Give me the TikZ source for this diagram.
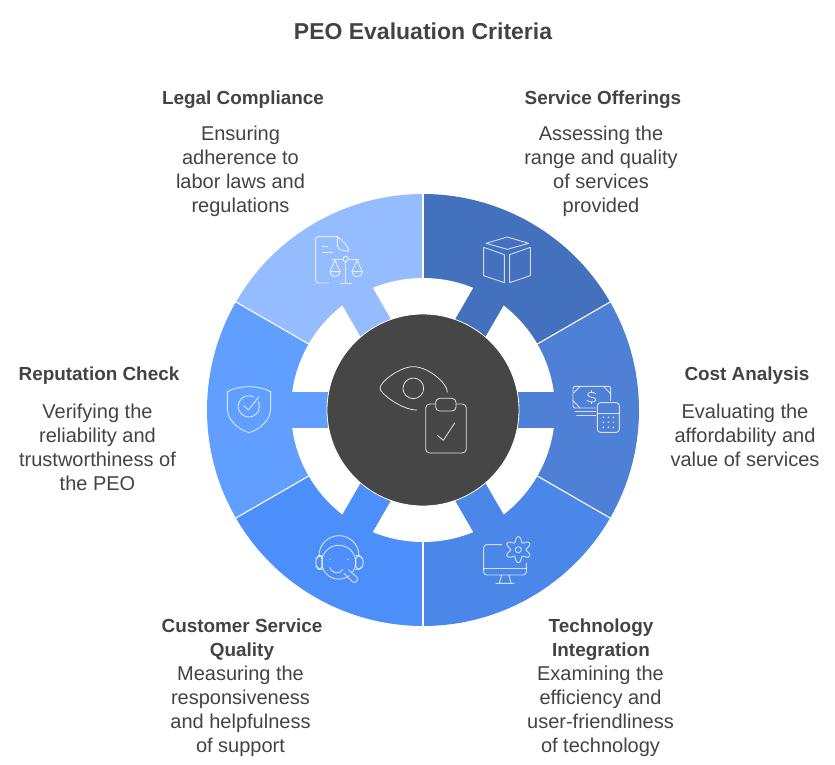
\documentclass[tikz,border=0pt]{standalone}
\usepackage{fontspec}
\setmainfont{Liberation Sans}
\definecolor{cservice}{RGB}{67,113,189}
\definecolor{ccost}{RGB}{78,128,213}
\definecolor{ctech}{RGB}{74,135,232}
\definecolor{ccust}{RGB}{77,143,250}
\definecolor{crep}{RGB}{96,158,255}
\definecolor{clegal}{RGB}{148,188,255}
\definecolor{chub}{RGB}{70,70,70}
\definecolor{ctext}{RGB}{67,67,67}
\tikzset{
  titletext/.style={font=\fontsize{23}{27}\selectfont\bfseries,text=ctext,inner sep=0pt},
  headtext/.style={font=\fontsize{18.9}{24}\selectfont\bfseries,text=ctext,align=center,inner sep=0pt},
  bodytext/.style={font=\fontsize{20}{24}\selectfont,text=ctext,align=center,inner sep=0pt},
  icon/.style={draw=white,draw opacity=.75,line width=.9pt,line join=round,line cap=round},
  hubicon/.style={draw=white,draw opacity=.85,line width=.8pt,line join=round,line cap=round},
  sep/.style={draw=white,line width=1.1pt},
  zoomed/.style={shift={(#1)},scale=1/3}
}
\begin{document}
\begin{tikzpicture}[x=1pt,y=1pt]
\useasboundingbox (0,0) rectangle (835,764);
% wheel, y up, origin at wheel centre
\begin{scope}[shift={(423,354)}]
  \foreach \a/\b/\c in {90/30/cservice,30/-30/ccost,-30/-90/ctech,-90/-150/ccust,-150/-210/crep,-210/-270/clegal}{
    \fill[\c] (\a:216) arc[start angle=\a,end angle=\b,radius=216] -- (0,0) -- cycle;
  }
  \fill[white] (0,0) circle[radius=132];
  \foreach \m/\c in {60/cservice,0/ccost,-60/ctech,-120/ccust,180/crep,120/clegal}{
    \fill[\c,rotate=\m] (90,-17.5) rectangle (140,17.5);
  }
  \foreach \a in {90,30,-30,-90,-150,150}{
    \draw[sep] (\a:132) -- (\a:216.5);
  }
\end{scope}
\node[circle,fill=chub,draw=white,line width=.8pt,minimum size=192pt,inner sep=0pt] (hub) at (423,354) {};
% all below in reference pixel coordinates
\begin{scope}[shift={(0,764)},yscale=-1]
% service
\begin{scope}[zoomed={420,190}]
  \draw[icon] (262,141)--(326,160)--(262,178)--(198,160)--cycle;
  \draw[icon] (191,172)--(253,194)--(253,278)--(191,257)--cycle;
  \draw[icon] (269,194)--(331,172)--(331,257)--(269,278)--cycle;
\end{scope}
% legal
\begin{scope}[zoomed={200,190}]
  \draw[icon] (385,279)--(355,279) .. controls (350,279) and (347,276) .. (347,271)--(347,148) .. controls (347,143) and (350,140) .. (355,140)--(412,140) .. controls (425,150) and (437,162) .. (445,175)--(445,185);
  \draw[icon] (412,140)--(412,165) .. controls (412,178) and (425,183) .. (445,183);
  \draw[icon] (367,170)--(382,170) (367,187)--(397,187);
  \draw[icon] (437,215)--(437,279) (420,279)--(455,279);
  \draw[icon] (437,207) circle[radius=8];
  \draw[icon] (398,208)--(428,208) (447,208)--(477,208);
  \draw[icon] (390,245)--(405,210)--(420,245)--cycle;
  \draw[icon] (390,245) arc[start angle=180,end angle=0,radius=15];
  \draw[icon] (456,245)--(471,210)--(487,245)--cycle;
  \draw[icon] (456,245) arc[start angle=180,end angle=0,radius=15.5];
\end{scope}
% cost
\begin{scope}[zoomed={565,378}]
  \draw[icon,rounded corners=2pt] (92,90)--(24,90)--(24,25)--(137,25)--(137,68);
  \draw[icon] (45,25)--(26,45) (115,25)--(137,47) (24,68)--(45,90);
  \draw[icon] (92,47) .. controls (85,40) and (66,42) .. (68,51) .. controls (70,60) and (94,56) .. (92,66) .. controls (90,75) and (72,73) .. (66,67);
  \draw[icon] (80,38)--(80,43) (80,72)--(80,77);
  \draw[icon] (30,99)--(92,99) (35,112)--(92,112);
  \draw[icon,rounded corners=3pt] (97,74) rectangle (163,163);
  \draw[icon] (97,105)--(163,105);
  \foreach \x in {115,130,145}{\foreach \y in {118,133,148}{\fill[white,opacity=.75] (\x,\y) circle[radius=2.6];}}
\end{scope}
% reputation
\begin{scope}[zoomed={220,380}]
  \draw[icon] (22,35) .. controls (60,15) and (114,15) .. (152,35) -- (152,85) .. controls (152,120) and (120,148) .. (87,158) .. controls (54,148) and (22,120) .. (22,85) -- cycle;
  \draw[icon] (100,50) arc[start angle=-65,end angle=-385,radius=32];
  \draw[icon] (72,78)--(85,90)--(117,50);
\end{scope}
% customer
\begin{scope}[zoomed={200,410}]
  \draw[icon] (357,437) arc[start angle=180,end angle=360,radius=60];
  \draw[icon] (458,486) arc[start angle=35,end angle=-308,radius=51];
  \draw[icon,rounded corners=4pt] (367,437)--(355,437)--(347,447)--(347,468)--(355,478)--(367,478)--cycle;
  \draw[icon,rounded corners=4pt] (467,437)--(480,437)--(490,447)--(490,468)--(480,478)--(467,478)--cycle;
  \fill[white,opacity=.75] (390,448) circle[radius=2.2] (444,448) circle[radius=2.2];
  \draw[icon] (390,472) .. controls (395,492) and (420,494) .. (428,478);
  \draw[icon] (432,490)--(458,516) .. controls (465,521) and (478,510) .. (472,503)--(446,480);
\end{scope}
% technology
\begin{scope}[zoomed={420,410}]
  \draw[icon,rounded corners=3pt] (245,404)--(191,404)--(191,495)--(319,495)--(319,460);
  \draw[icon] (191,476)--(319,476);
  \draw[icon] (245,495)--(238,520) (267,495)--(273,520) (228,520)--(282,520);
  \draw[icon] plot[domain=0:360,samples=120,smooth] ({295+(31+8*cos(6*(\x-90)))*cos(\x)},{419+(31+8*cos(6*(\x-90)))*sin(\x)});
  \draw[icon] (295,419) circle[radius=9];
\end{scope}
% hub icon
\begin{scope}[zoomed={360,350}]
  \draw[hubicon] (262,126) .. controls (262,100) and (205,50) .. (160,50) .. controls (120,50) and (60,95) .. (60,115) .. controls (60,130) and (125,180) .. (170,180);
  \draw[hubicon] (160,115) circle[radius=31];
  \draw[hubicon,rounded corners=4pt] (197,162) rectangle (319,309);
  \draw[hubicon,fill=chub,rounded corners=4pt] (227,145) rectangle (288,183);
  \draw[hubicon] (232,256)--(250,271)--(284,219);
\end{scope}
% texts
\node[titletext] (title) at (423,31.5) {PEO Evaluation Criteria};
\node[headtext] (legalh) at (243,100) {Legal Compliance};
\node[bodytext] (legalb) at (240.5,171.5) {Ensuring\\adherence to\\labor laws and\\regulations};
\node[headtext] (serviceh) at (603,100) {Service Offerings};
\node[bodytext] (serviceb) at (601,171.5) {Assessing the\\range and quality\\of services\\provided};
\node[headtext] (costh) at (747,376) {Cost Analysis};
\node[bodytext] (costb) at (745,435) {Evaluating the\\affordability and\\value of services};
\node[headtext] (reph) at (99,376) {Reputation Check};
\node[bodytext] (repb) at (97.5,447) {Verifying the\\reliability and\\trustworthiness of\\the PEO};
\node[headtext] (custh) at (242,640) {Customer Service\\Quality};
\node[bodytext] (custb) at (240.5,711.5) {Measuring the\\responsiveness\\and helpfulness\\of support};
\node[headtext] (techh) at (601,640) {Technology\\Integration};
\node[bodytext] (techb) at (600.5,711.5) {Examining the\\efficiency and\\user-friendliness\\of technology};
\end{scope}
\end{tikzpicture}
\end{document}
